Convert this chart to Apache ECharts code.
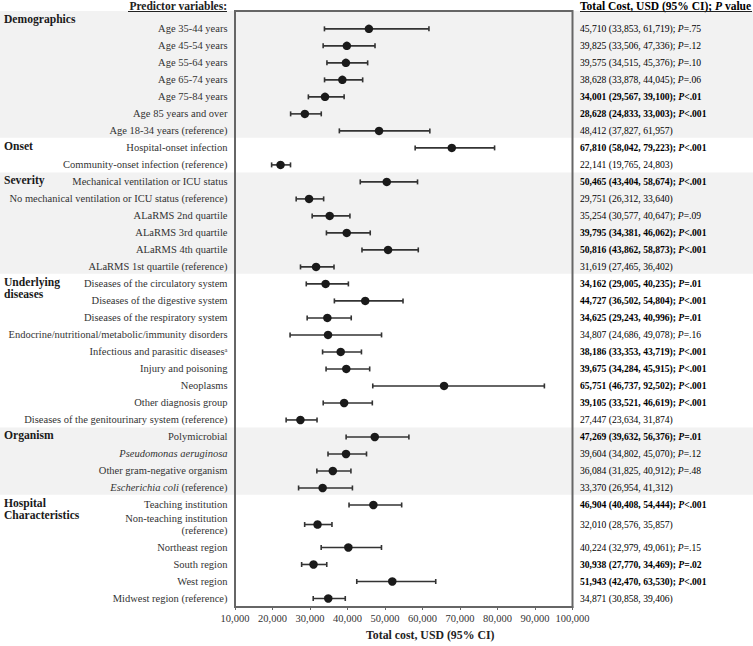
<!DOCTYPE html>
<html>
<head>
<meta charset="utf-8">
<script src="https://cdn.jsdelivr.net/npm/echarts@6/dist/echarts.min.js"></script>
<style>
  html, body { margin: 0; padding: 0; background: #fff; }
  #chart { width: 753px; height: 646px; }
</style>
</head>
<body>
<div id="chart"></div>
<script>
// row labels (rich-text markup for italics / superscript)
const labels = [
  'Age 35-44 years', 'Age 45-54 years', 'Age 55-64 years', 'Age 65-74 years',
  'Age 75-84 years', 'Age 85 years and over', 'Age 18-34 years (reference)',
  'Hospital-onset infection', 'Community-onset infection (reference)',
  'Mechanical ventilation or ICU status', 'No mechanical ventilation or ICU status (reference)',
  'ALaRMS 2nd quartile', 'ALaRMS 3rd quartile', 'ALaRMS 4th quartile', 'ALaRMS 1st quartile (reference)',
  'Diseases of the circulatory system', 'Diseases of the digestive system',
  'Diseases of the respiratory system', 'Endocrine/nutritional/metabolic/immunity disorders',
  'Infectious and parasitic diseases{sup|a}', 'Injury and poisoning', 'Neoplasms',
  'Other diagnosis group', 'Diseases of the genitourinary system (reference)',
  'Polymicrobial', '{i|Pseudomonas aeruginosa}', 'Other gram-negative organism',
  '{i|Escherichia coli} (reference)',
  'Teaching institution', 'Non-teaching institution\n(reference)', 'Northeast region',
  'South region', 'West region', 'Midwest region (reference)'
];
const estimate = [45710, 39825, 39575, 38628, 34001, 28628, 48412,
  67810, 22141,
  50465, 29751, 35254, 39795, 50816, 31619,
  34162, 44727, 34625, 34807, 38186, 39675, 65751, 39105, 27447,
  47269, 39604, 36084, 33370,
  46904, 32010, 40224, 30938, 51943, 34871];
const lower = [33853, 33506, 34515, 33878, 29567, 24833, 37827,
  58042, 19765,
  43404, 26312, 30577, 34381, 43862, 27465,
  29005, 36502, 29243, 24686, 33353, 34284, 46737, 33521, 23634,
  39632, 34802, 31825, 26954,
  40408, 28576, 32979, 27770, 42470, 30858];
const upper = [61719, 47336, 45376, 44045, 39100, 33003, 61957,
  79223, 24803,
  58674, 33640, 40647, 46062, 58873, 36402,
  40235, 54804, 40996, 49078, 43719, 45915, 92502, 46619, 31874,
  56376, 45070, 40912, 41312,
  54444, 35857, 49061, 34469, 63530, 39406];
const pValues = ['=.75', '=.12', '=.10', '=.06', '<.01', '<.001', '',
  '<.001', '',
  '<.001', '', '=.09', '<.001', '<.001', '',
  '=.01', '<.001', '=.01', '=.16', '<.001', '<.001', '<.001', '<.001', '',
  '=.01', '=.12', '=.48', '',
  '<.001', '', '=.15', '=.02', '<.001', ''];
const groupNames = ['Demographics', 'Onset', 'Severity', 'Underlying\ndiseases', 'Organism', 'Hospital\nCharacteristics'];
const groupSizes = [7, 2, 6, 9, 4, 6];
const xTicks = [10000, 100000, 10000]; // min, max, step

const serif = '"Liberation Serif", "Times New Roman", serif';
const yMin = -1.05, yMax = 34;

// vertical slot of each row; two-line labels take a bit more room
const rowPos = [];
let cur = 0;
labels.forEach(l => {
  const two = l.includes('\n');
  if (two) cur += 0.15;
  rowPos.push(cur);
  cur += two ? 1.35 : 1;
});

const fmt = v => v.toLocaleString('en-US');
const isSig = p => p && (p[0] === '<' || parseFloat(p.slice(1)) < 0.05);

function rightText(i) {
  const p = pValues[i];
  const base = `${fmt(estimate[i])} (${fmt(lower[i])}, ${fmt(upper[i])})`;
  if (!p) return `{n|${base}}`;
  if (isSig(p)) return `{b|${base}; }{bi|P}{b|${p}}`;
  return `{n|${base}; }{ni|P}{n|${p}}`;
}

// group starts and shaded bands
const groupStart = [];
groupSizes.reduce((acc, n) => { groupStart.push(acc); return acc + n; }, 0);
const bands = [];
groupSizes.forEach((n, g) => {
  if (g % 2 !== 0) return;
  const s = groupStart[g], e = s + n - 1;
  const top = s === 0 ? yMin : (rowPos[s - 1] + rowPos[s]) / 2 - 0.05;
  const bot = e === labels.length - 1 ? yMax : (rowPos[e] + rowPos[e + 1]) / 2 - 0.1;
  bands.push([xTicks[0], top, bot]);
});

const chart = echarts.init(document.getElementById('chart'), null, { renderer: 'svg' });

const option = {
  animation: false,
  grid: {
    left: 235, right: 180.5, top: 11, bottom: 36,
    show: true, borderColor: '#666', borderWidth: 2, backgroundColor: 'transparent'
  },
  xAxis: {
    type: 'value', min: xTicks[0], max: xTicks[1], interval: xTicks[2],
    axisLine: { onZero: false, lineStyle: { color: '#666', width: 2 } },
    axisTick: { show: true, length: 3, lineStyle: { color: '#666' } },
    splitLine: { show: false },
    axisLabel: {
      formatter: v => fmt(v), color: '#333', fontFamily: serif, fontSize: 10.5, margin: 6
    },
    name: 'Total cost, USD (95% CI)', nameLocation: 'middle', nameGap: 22,
    nameTextStyle: { fontFamily: serif, fontSize: 11.8, fontWeight: 'bold', color: '#222', padding: [0, 0, 0, 53] }
  },
  yAxis: {
    type: 'value', inverse: true, min: yMin, max: yMax,
    axisLine: { show: false }, axisTick: { show: false },
    axisLabel: { show: false }, splitLine: { show: false }
  },
  graphic: [
    { type: 'text', x: 227, y: 6, style: {
      text: 'Predictor variables:', align: 'right', verticalAlign: 'middle',
      fontFamily: serif, fontSize: 11.5, fontWeight: 'bold', fill: '#222' } },
    { type: 'line', shape: { x1: 128, y1: 11.5, x2: 227, y2: 11.5 }, style: { stroke: '#222', lineWidth: 1 } },
    { type: 'text', x: 580, y: 6, style: {
      text: '{h|Total Cost, USD (95% CI); }{hi|P}{h| value}', align: 'left', verticalAlign: 'middle',
      rich: {
        h: { fontFamily: serif, fontSize: 11.5, fontWeight: 'bold', color: '#222' },
        hi: { fontFamily: serif, fontSize: 11.5, fontWeight: 'bold', fontStyle: 'italic', color: '#222' }
      } } },
    { type: 'line', shape: { x1: 580, y1: 11.5, x2: 752, y2: 11.5 }, style: { stroke: '#222', lineWidth: 1 } }
  ],
  series: [
    {
      // shaded group bands across the whole width
      type: 'custom', z: -1, silent: true,
      encode: { x: 0, y: [1, 2] },
      data: bands,
      renderItem(params, api) {
        const y1 = api.coord([api.value(0), api.value(1)])[1];
        const y2 = api.coord([api.value(0), api.value(2)])[1];
        return { type: 'rect', shape: { x: 0, y: y1, width: api.getWidth(), height: y2 - y1 },
          style: { fill: '#f2f2f2' } };
      }
    },
    {
      // confidence intervals
      type: 'custom', silent: true,
      encode: { x: [0, 1], y: 2 },
      data: lower.map((l, i) => [l, upper[i], rowPos[i]]),
      renderItem(params, api) {
        const a = api.coord([api.value(0), api.value(2)]);
        const b = api.coord([api.value(1), api.value(2)]);
        const st = { stroke: '#333', lineWidth: 1.6 };
        return { type: 'group', children: [
          { type: 'line', shape: { x1: a[0], y1: a[1], x2: b[0], y2: b[1] }, style: st },
          { type: 'line', shape: { x1: a[0], y1: a[1] - 2.5, x2: a[0], y2: a[1] + 2.5 }, style: st },
          { type: 'line', shape: { x1: b[0], y1: b[1] - 2.5, x2: b[0], y2: b[1] + 2.5 }, style: st }
        ] };
      }
    },
    {
      type: 'scatter', silent: true,
      symbol: 'circle', symbolSize: 8.5,
      itemStyle: { color: '#1a1a1a', opacity: 1 },
      data: estimate.map((v, i) => [v, rowPos[i]])
    },
    {
      // row labels on the left, estimates on the right
      type: 'custom', silent: true,
      encode: { x: 0, y: 1 },
      data: estimate.map((v, i) => [v, rowPos[i]]),
      renderItem(params, api) {
        const i = params.dataIndex;
        const cs = params.coordSys;
        const y = api.coord([api.value(0), api.value(1)])[1];
        return { type: 'group', children: [
          { type: 'text', style: {
            text: labels[i], x: cs.x - 7.5, y: y, align: 'right', verticalAlign: 'middle',
            fontFamily: serif, fontSize: 10.5, fill: '#333', lineHeight: 11.5,
            rich: {
              i: { fontFamily: serif, fontSize: 10.5, fontStyle: 'italic', color: '#333' },
              sup: { fontFamily: serif, fontSize: 6.5, color: '#333', verticalAlign: 'top' }
            } } },
          { type: 'text', style: {
            text: rightText(i), x: cs.x + cs.width + 7.5, y: y, align: 'left', verticalAlign: 'middle',
            rich: {
              n: { fontFamily: serif, fontSize: 9.6, color: '#555' },
              ni: { fontFamily: serif, fontSize: 9.6, fontStyle: 'italic', color: '#555' },
              b: { fontFamily: serif, fontSize: 9.6, fontWeight: 'bold', color: '#222' },
              bi: { fontFamily: serif, fontSize: 9.6, fontWeight: 'bold', fontStyle: 'italic', color: '#222' }
            } } }
        ] };
      }
    },
    {
      // group headers, one text per line
      type: 'custom', silent: true,
      encode: { x: 0, y: 1 },
      data: groupStart.map((s, g) => [xTicks[0], g === 0 ? rowPos[s] - 0.55 : rowPos[s] - 0.1]),
      renderItem(params, api) {
        const y = api.coord([api.value(0), api.value(1)])[1];
        const lines = groupNames[params.dataIndex].split('\n');
        return { type: 'group', children: lines.map((t, k) => ({
          type: 'text', style: {
            text: t, x: 4, y: y + k * 12, align: 'left', verticalAlign: 'middle',
            fontFamily: serif, fontSize: 11.6, fontWeight: 'bold', fill: '#1a1a1a'
          } })) };
      }
    }
  ]
};

chart.setOption(option);
</script>
</body>
</html>
